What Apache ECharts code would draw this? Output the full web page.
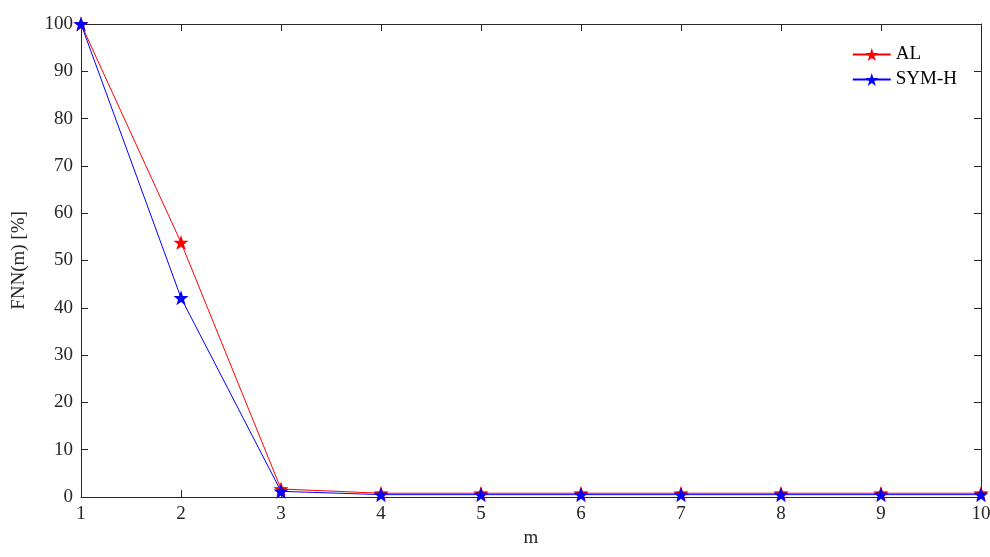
<!DOCTYPE html>
<html><head><meta charset="utf-8">
<script src="https://cdn.jsdelivr.net/npm/echarts@6/dist/echarts.min.js"></script>
<style>html,body{margin:0;padding:0;background:#fff}#c{width:990px;height:557px}</style>
</head><body><div id="c"></div>
<script>
const mValues = [1,2,3,4,5,6,7,8,9,10];
const alValues = [100,53.8,1.7,0.8,0.8,0.8,0.8,0.8,0.8,0.8];
const symhValues = [100,42.1,1.2,0.5,0.5,0.5,0.5,0.5,0.5,0.5];
const font = 'Liberation Serif';
const star = 'path://M0,-10L2.35,-3.24L9.51,-3.09L3.8,1.24L5.88,8.09L0,4L-5.88,8.09L-3.8,1.24L-9.51,-3.09L-2.35,-3.24Z';
const ax = {lineStyle:{color:'#262626',width:1}};
function xa(pos, labels){return {type:'value',min:1,max:10,interval:1,position:pos,
  name: labels?'m':'', nameLocation:'middle', nameGap:30, nameTextStyle:{fontFamily:font,fontSize:19,color:'#262626'},
  axisLine:{show:true,onZero:false,...ax},axisTick:{show:true,inside:true,length:7,...ax},
  axisLabel:{show:labels,fontFamily:font,fontSize:19,color:'#262626',margin:8},splitLine:{show:false}};}
function ya(pos, labels){return {type:'value',min:0,max:100,interval:10,position:pos,
  name: labels?'FNN(m) [%]':'', nameLocation:'middle', nameGap:52, nameTextStyle:{fontFamily:font,fontSize:19,color:'#262626'},
  axisLine:{show:true,onZero:false,...ax},axisTick:{show:true,inside:true,length:7,...ax},
  axisLabel:{show:labels,fontFamily:font,fontSize:19,color:'#262626',margin:8},splitLine:{show:false}};}
const chart = echarts.init(document.getElementById('c'));
chart.setOption({
  animation:false,
  grid:{left:81,right:9,top:24,bottom:60,outerBoundsMode:'none',containLabel:false},
  legend:{right:28,top:40,orient:'vertical',itemWidth:38,itemHeight:16,itemGap:6,
    textStyle:{fontFamily:font,fontSize:19,color:'#000'},data:['AL','SYM-H']},
  xAxis:[xa('bottom',true),xa('top',false)],
  yAxis:[ya('left',true),ya('right',false)],
  series:[
    {name:'AL',type:'line',data:mValues.map((m,i)=>[m,alValues[i]]),symbol:star,symbolSize:15,
     lineStyle:{color:'#ff0000',width:1},itemStyle:{color:'#ff0000'},color:'#ff0000'},
    {name:'SYM-H',type:'line',data:mValues.map((m,i)=>[m,symhValues[i]]),symbol:star,symbolSize:15,
     lineStyle:{color:'#0000ff',width:1},itemStyle:{color:'#0000ff'},color:'#0000ff'}
  ]
});
</script></body></html>
